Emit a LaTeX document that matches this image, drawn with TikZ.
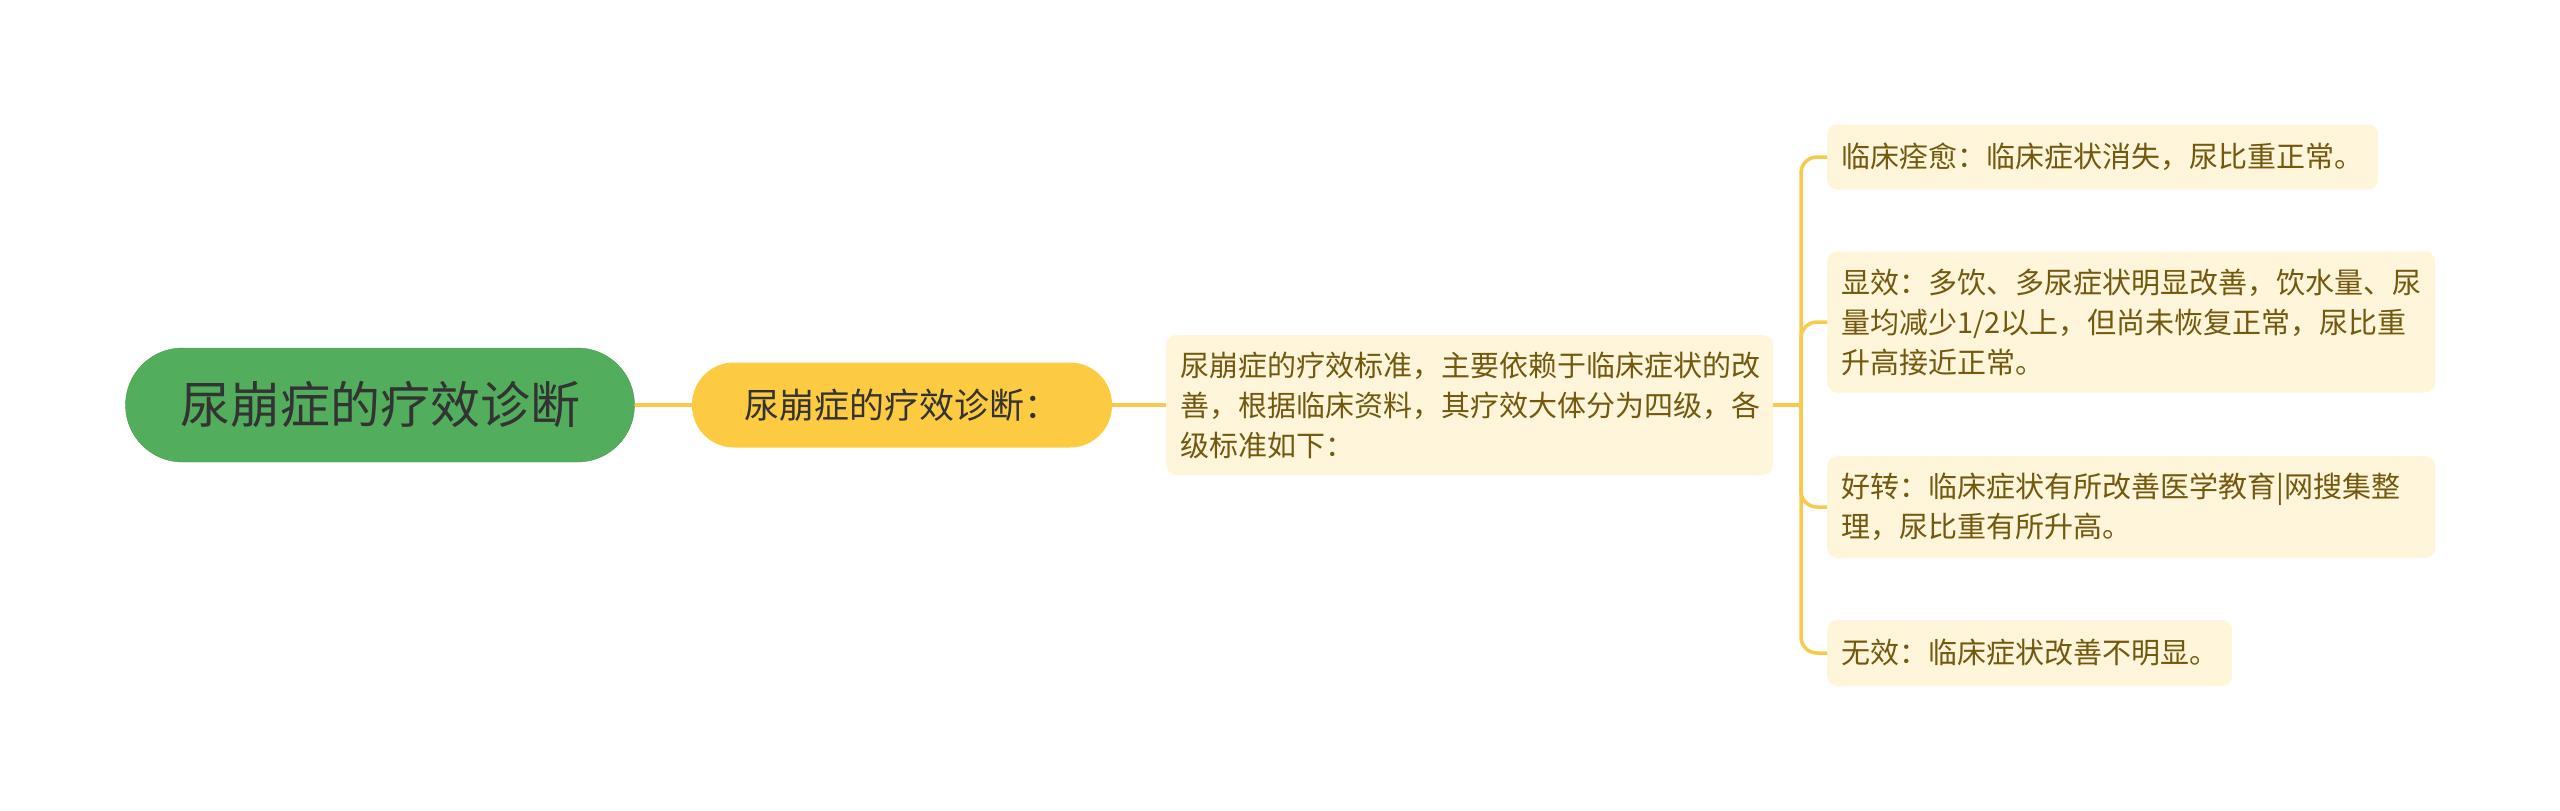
\documentclass[tikz,border=0pt]{standalone}
\usepackage{fontspec}
\setmainfont{Noto Sans CJK SC}
\definecolor{rootgreen}{RGB}{82,174,92}
\definecolor{rootline}{RGB}{72,150,80}
\definecolor{topicyellow}{RGB}{253,203,66}
\definecolor{linkyellow}{RGB}{248,201,74}
\definecolor{leafcream}{RGB}{254,245,218}
\definecolor{leaftext}{RGB}{115,88,14}
\definecolor{darktext}{RGB}{51,51,51}
\begin{document}
\begin{tikzpicture}[x=1pt,y=-1pt,
    link/.style={draw=linkyellow, line width=3.5pt},
    leaf/.style={fill=leafcream, rounded corners=10pt, anchor=west,
      text=leaftext, align=left, inner xsep=14pt,
      font=\fontsize{29}{40}\selectfont}]
    \useasboundingbox (0,0) rectangle (2560,811);

    % Root
    \node[draw=rootline,
      fill=rootgreen,
      rounded corners=57pt,
      minimum width=509pt,
      minimum height=114pt,
      text=darktext,
      font=\fontsize{50}{60}\selectfont] (root) at (380,405) {尿崩症的疗效诊断};

    % Topic
    \node[fill=topicyellow,
      rounded corners=42pt,
      minimum width=420pt,
      minimum height=85pt,
      text=darktext,
      font=\fontsize{35}{42}\selectfont] (topic) at (902,405) {尿崩症的疗效诊断：};

    % Detail
    \node[leaf,
      text width=579pt,
      minimum height=140pt] (detail) at (1166,405)
      {尿崩症的疗效标准，主要依赖于临床症状的改\\善，根据临床资料，其疗效大体分为四级，各\\级标准如下：};

    % Grades
    \node[leaf, text width=523pt, minimum height=65pt] (cured) at (1827,157)
      {临床痊愈：临床症状消失，尿比重正常。};
    \node[leaf, text width=580pt, minimum height=141pt] (marked) at (1827,322)
      {显效：多饮、多尿症状明显改善，饮水量、尿\\量均减少1/2以上，但尚未恢复正常，尿比重\\升高接近正常。};
    \node[leaf, text width=580pt, minimum height=102pt] (better) at (1827,507)
      {好转：临床症状有所改善医学教育|网搜集整\\理，尿比重有所升高。};
    \node[leaf, text width=377pt, minimum height=66pt] (none) at (1827,653)
      {无效：临床症状改善不明显。};

    % Links
    \draw[link] (root.east) -- (topic.west);
    \draw[link] (topic.east) -- (detail.west);
    \coordinate (fork) at (1801,405);
    \draw[link] (detail.east) -- (fork);
    \foreach \leafname in {cured,marked,better,none}
      \draw[link, rounded corners=16pt] (fork) |- (\leafname.west);
\end{tikzpicture}
\end{document}
